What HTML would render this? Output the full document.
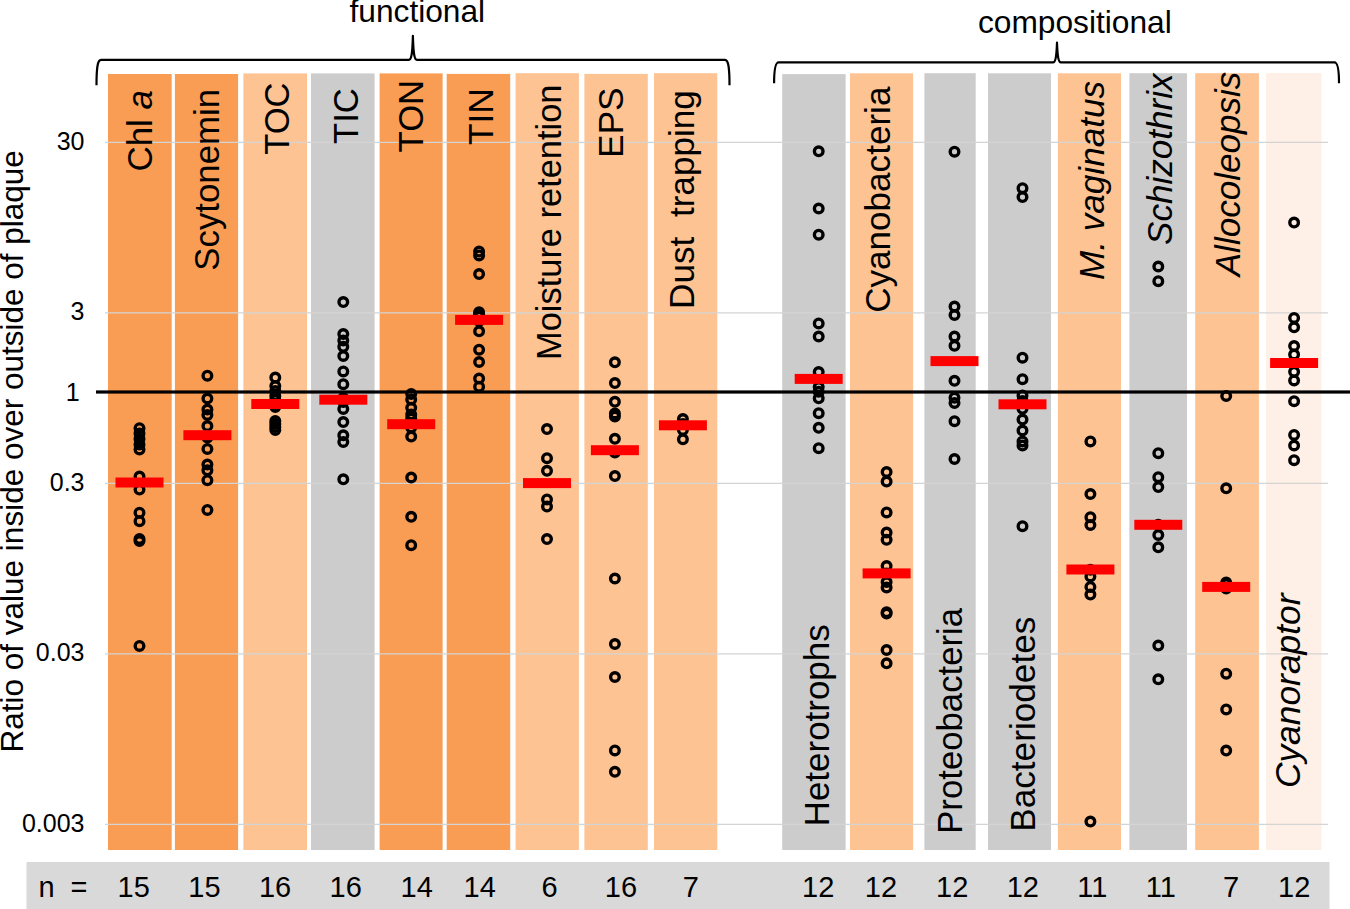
<!DOCTYPE html><html><head><meta charset="utf-8"><style>html,body{margin:0;padding:0;background:#fff;overflow:hidden}svg{display:block}text{font-family:"Liberation Sans",sans-serif}</style></head><body>
<svg width="1350" height="909" viewBox="0 0 1350 909">
<rect width="1350" height="909" fill="#fff"/>
<rect x="108" y="74" width="63.7" height="776.0" fill="#f99d55"/>
<rect x="174.9" y="74" width="63.2" height="776.0" fill="#f99d55"/>
<rect x="243.4" y="73.4" width="63.6" height="776.6" fill="#fdc393"/>
<rect x="311" y="73.4" width="63.6" height="776.6" fill="#cccccc"/>
<rect x="379.6" y="73.4" width="63.0" height="776.6" fill="#f99d55"/>
<rect x="446.7" y="73.9" width="63.5" height="776.1" fill="#f99d55"/>
<rect x="515.6" y="73.2" width="63.3" height="776.8" fill="#fdc393"/>
<rect x="584.4" y="73.9" width="63.4" height="776.1" fill="#fdc393"/>
<rect x="654" y="73.2" width="63.3" height="776.8" fill="#fdc393"/>
<rect x="782.2" y="74.1" width="63.4" height="775.9" fill="#cccccc"/>
<rect x="850" y="73.3" width="63.1" height="776.7" fill="#fdc393"/>
<rect x="924.4" y="73.2" width="51.3" height="776.8" fill="#cccccc"/>
<rect x="988" y="73.3" width="63.0" height="776.7" fill="#cccccc"/>
<rect x="1057.9" y="73.3" width="63.1" height="776.7" fill="#fdc393"/>
<rect x="1129.4" y="73.2" width="57.6" height="776.8" fill="#cccccc"/>
<rect x="1195.2" y="73.2" width="63.7" height="776.8" fill="#fdc393"/>
<rect x="1266.1" y="73" width="55.4" height="777.0" fill="#fef0e6"/>
<line x1="105" x2="1328" y1="142.4" y2="142.4" stroke="#d4d4d4" stroke-width="1.2"/>
<line x1="105" x2="1328" y1="312.9" y2="312.9" stroke="#d4d4d4" stroke-width="1.2"/>
<line x1="105" x2="1328" y1="483.4" y2="483.4" stroke="#d4d4d4" stroke-width="1.2"/>
<line x1="105" x2="1328" y1="653.9" y2="653.9" stroke="#d4d4d4" stroke-width="1.2"/>
<line x1="105" x2="1328" y1="824.4" y2="824.4" stroke="#d4d4d4" stroke-width="1.2"/>
<text transform="translate(152.4,171.6) rotate(-90)" font-size="34.99">Chl <tspan font-style="italic">a</tspan></text>
<text transform="translate(218.9,270.7) rotate(-90)" font-size="34.80" xml:space="preserve">Scytonemin</text>
<text transform="translate(288.7,154.8) rotate(-90)" font-size="34.53" xml:space="preserve">TOC</text>
<text transform="translate(357.7,143.9) rotate(-90)" font-size="34.57" xml:space="preserve">TIC</text>
<text transform="translate(423,152.4) rotate(-90)" font-size="34.68" xml:space="preserve">TON</text>
<text transform="translate(492.8,145.1) rotate(-90)" font-size="35.40" xml:space="preserve">TIN</text>
<text transform="translate(560.5,360.0) rotate(-90)" font-size="34.44" xml:space="preserve">Moisture retention</text>
<text transform="translate(623.2,158.1) rotate(-90)" font-size="35.34" xml:space="preserve">EPS</text>
<text transform="translate(694.2,308.9) rotate(-90)" font-size="35.15" xml:space="preserve">Dust&#160; trapping</text>
<text transform="translate(829.3,826.3) rotate(-90)" font-size="34.95" xml:space="preserve">Heterotrophs</text>
<text transform="translate(890,312.8) rotate(-90)" font-size="35.08" xml:space="preserve">Cyanobacteria</text>
<text transform="translate(961.8,833.8) rotate(-90)" font-size="34.74" xml:space="preserve">Proteobacteria</text>
<text transform="translate(1035,831.8) rotate(-90)" font-size="35.20" xml:space="preserve">Bacteriodetes</text>
<text transform="translate(1103.9,280.0) rotate(-90)" font-size="35.12" font-style="italic" xml:space="preserve">M. vaginatus</text>
<text transform="translate(1171.7,245.0) rotate(-90)" font-size="35.10" font-style="italic" xml:space="preserve">Schizothrix</text>
<text transform="translate(1239.5,276.3) rotate(-90)" font-size="35.07" font-style="italic" xml:space="preserve">Allocoleopsis</text>
<text transform="translate(1299.5,788.1) rotate(-90)" font-size="35.37" font-style="italic" xml:space="preserve">Cyanoraptor</text>
<rect x="96" y="390.4" width="1254" height="3.2" fill="#000"/>
<circle cx="139.5" cy="428.2" r="4.3" fill="none" stroke="#000" stroke-width="3.4"/>
<circle cx="139.5" cy="433.5" r="4.3" fill="none" stroke="#000" stroke-width="3.4"/>
<circle cx="139.5" cy="439.0" r="4.3" fill="none" stroke="#000" stroke-width="3.4"/>
<circle cx="139.5" cy="444.5" r="4.3" fill="none" stroke="#000" stroke-width="3.4"/>
<circle cx="139.5" cy="449.5" r="4.3" fill="none" stroke="#000" stroke-width="3.4"/>
<circle cx="139.5" cy="476.5" r="4.3" fill="none" stroke="#000" stroke-width="3.4"/>
<circle cx="139.5" cy="489.6" r="4.3" fill="none" stroke="#000" stroke-width="3.4"/>
<circle cx="139.5" cy="512.7" r="4.3" fill="none" stroke="#000" stroke-width="3.4"/>
<circle cx="139.5" cy="521.2" r="4.3" fill="none" stroke="#000" stroke-width="3.4"/>
<circle cx="139.5" cy="539.0" r="4.3" fill="none" stroke="#000" stroke-width="3.4"/>
<circle cx="139.5" cy="541.0" r="4.3" fill="none" stroke="#000" stroke-width="3.4"/>
<circle cx="139.5" cy="645.9" r="4.3" fill="none" stroke="#000" stroke-width="3.4"/>
<circle cx="207.4" cy="375.7" r="4.3" fill="none" stroke="#000" stroke-width="3.4"/>
<circle cx="207.4" cy="398.5" r="4.3" fill="none" stroke="#000" stroke-width="3.4"/>
<circle cx="207.4" cy="409.5" r="4.3" fill="none" stroke="#000" stroke-width="3.4"/>
<circle cx="207.4" cy="415.0" r="4.3" fill="none" stroke="#000" stroke-width="3.4"/>
<circle cx="207.4" cy="426.0" r="4.3" fill="none" stroke="#000" stroke-width="3.4"/>
<circle cx="207.4" cy="437.5" r="4.3" fill="none" stroke="#000" stroke-width="3.4"/>
<circle cx="207.4" cy="448.9" r="4.3" fill="none" stroke="#000" stroke-width="3.4"/>
<circle cx="207.4" cy="464.5" r="4.3" fill="none" stroke="#000" stroke-width="3.4"/>
<circle cx="207.4" cy="470.3" r="4.3" fill="none" stroke="#000" stroke-width="3.4"/>
<circle cx="207.4" cy="480.2" r="4.3" fill="none" stroke="#000" stroke-width="3.4"/>
<circle cx="207.4" cy="509.9" r="4.3" fill="none" stroke="#000" stroke-width="3.4"/>
<circle cx="275.3" cy="377.6" r="4.3" fill="none" stroke="#000" stroke-width="3.4"/>
<circle cx="275.3" cy="386.0" r="4.3" fill="none" stroke="#000" stroke-width="3.4"/>
<circle cx="275.3" cy="391.0" r="4.3" fill="none" stroke="#000" stroke-width="3.4"/>
<circle cx="275.3" cy="396.0" r="4.3" fill="none" stroke="#000" stroke-width="3.4"/>
<circle cx="275.3" cy="400.0" r="4.3" fill="none" stroke="#000" stroke-width="3.4"/>
<circle cx="275.3" cy="404.0" r="4.3" fill="none" stroke="#000" stroke-width="3.4"/>
<circle cx="275.3" cy="407.0" r="4.3" fill="none" stroke="#000" stroke-width="3.4"/>
<circle cx="275.3" cy="421.0" r="4.3" fill="none" stroke="#000" stroke-width="3.4"/>
<circle cx="275.3" cy="424.0" r="4.3" fill="none" stroke="#000" stroke-width="3.4"/>
<circle cx="275.3" cy="427.0" r="4.3" fill="none" stroke="#000" stroke-width="3.4"/>
<circle cx="275.3" cy="430.0" r="4.3" fill="none" stroke="#000" stroke-width="3.4"/>
<circle cx="343.3" cy="302.1" r="4.3" fill="none" stroke="#000" stroke-width="3.4"/>
<circle cx="343.3" cy="334.0" r="4.3" fill="none" stroke="#000" stroke-width="3.4"/>
<circle cx="343.3" cy="340.6" r="4.3" fill="none" stroke="#000" stroke-width="3.4"/>
<circle cx="343.3" cy="346.8" r="4.3" fill="none" stroke="#000" stroke-width="3.4"/>
<circle cx="343.3" cy="356.0" r="4.3" fill="none" stroke="#000" stroke-width="3.4"/>
<circle cx="343.3" cy="371.4" r="4.3" fill="none" stroke="#000" stroke-width="3.4"/>
<circle cx="343.3" cy="384.2" r="4.3" fill="none" stroke="#000" stroke-width="3.4"/>
<circle cx="343.3" cy="397.9" r="4.3" fill="none" stroke="#000" stroke-width="3.4"/>
<circle cx="343.3" cy="402.0" r="4.3" fill="none" stroke="#000" stroke-width="3.4"/>
<circle cx="343.3" cy="408.9" r="4.3" fill="none" stroke="#000" stroke-width="3.4"/>
<circle cx="343.3" cy="422.1" r="4.3" fill="none" stroke="#000" stroke-width="3.4"/>
<circle cx="343.3" cy="435.3" r="4.3" fill="none" stroke="#000" stroke-width="3.4"/>
<circle cx="343.3" cy="441.9" r="4.3" fill="none" stroke="#000" stroke-width="3.4"/>
<circle cx="343.3" cy="479.3" r="4.3" fill="none" stroke="#000" stroke-width="3.4"/>
<circle cx="411.2" cy="393.9" r="4.3" fill="none" stroke="#000" stroke-width="3.4"/>
<circle cx="411.2" cy="399.4" r="4.3" fill="none" stroke="#000" stroke-width="3.4"/>
<circle cx="411.2" cy="407.8" r="4.3" fill="none" stroke="#000" stroke-width="3.4"/>
<circle cx="411.2" cy="414.5" r="4.3" fill="none" stroke="#000" stroke-width="3.4"/>
<circle cx="411.2" cy="418.5" r="4.3" fill="none" stroke="#000" stroke-width="3.4"/>
<circle cx="411.2" cy="427.4" r="4.3" fill="none" stroke="#000" stroke-width="3.4"/>
<circle cx="411.2" cy="436.6" r="4.3" fill="none" stroke="#000" stroke-width="3.4"/>
<circle cx="411.2" cy="477.5" r="4.3" fill="none" stroke="#000" stroke-width="3.4"/>
<circle cx="411.2" cy="516.8" r="4.3" fill="none" stroke="#000" stroke-width="3.4"/>
<circle cx="411.2" cy="545.2" r="4.3" fill="none" stroke="#000" stroke-width="3.4"/>
<circle cx="479.1" cy="251.6" r="4.3" fill="none" stroke="#000" stroke-width="3.4"/>
<circle cx="479.1" cy="255.4" r="4.3" fill="none" stroke="#000" stroke-width="3.4"/>
<circle cx="479.1" cy="274.1" r="4.3" fill="none" stroke="#000" stroke-width="3.4"/>
<circle cx="479.1" cy="312.3" r="4.3" fill="none" stroke="#000" stroke-width="3.4"/>
<circle cx="479.1" cy="314.3" r="4.3" fill="none" stroke="#000" stroke-width="3.4"/>
<circle cx="479.1" cy="316.5" r="4.3" fill="none" stroke="#000" stroke-width="3.4"/>
<circle cx="479.1" cy="321.0" r="4.3" fill="none" stroke="#000" stroke-width="3.4"/>
<circle cx="479.1" cy="331.3" r="4.3" fill="none" stroke="#000" stroke-width="3.4"/>
<circle cx="479.1" cy="349.7" r="4.3" fill="none" stroke="#000" stroke-width="3.4"/>
<circle cx="479.1" cy="362.0" r="4.3" fill="none" stroke="#000" stroke-width="3.4"/>
<circle cx="479.1" cy="378.6" r="4.3" fill="none" stroke="#000" stroke-width="3.4"/>
<circle cx="479.1" cy="386.7" r="4.3" fill="none" stroke="#000" stroke-width="3.4"/>
<circle cx="547.0" cy="429.1" r="4.3" fill="none" stroke="#000" stroke-width="3.4"/>
<circle cx="547.0" cy="458.2" r="4.3" fill="none" stroke="#000" stroke-width="3.4"/>
<circle cx="547.0" cy="470.8" r="4.3" fill="none" stroke="#000" stroke-width="3.4"/>
<circle cx="547.0" cy="499.4" r="4.3" fill="none" stroke="#000" stroke-width="3.4"/>
<circle cx="547.0" cy="506.6" r="4.3" fill="none" stroke="#000" stroke-width="3.4"/>
<circle cx="547.0" cy="539.1" r="4.3" fill="none" stroke="#000" stroke-width="3.4"/>
<circle cx="614.9" cy="362.3" r="4.3" fill="none" stroke="#000" stroke-width="3.4"/>
<circle cx="614.9" cy="383.1" r="4.3" fill="none" stroke="#000" stroke-width="3.4"/>
<circle cx="614.9" cy="401.8" r="4.3" fill="none" stroke="#000" stroke-width="3.4"/>
<circle cx="614.9" cy="413.5" r="4.3" fill="none" stroke="#000" stroke-width="3.4"/>
<circle cx="614.9" cy="416.5" r="4.3" fill="none" stroke="#000" stroke-width="3.4"/>
<circle cx="614.9" cy="438.8" r="4.3" fill="none" stroke="#000" stroke-width="3.4"/>
<circle cx="614.9" cy="452.6" r="4.3" fill="none" stroke="#000" stroke-width="3.4"/>
<circle cx="614.9" cy="476.1" r="4.3" fill="none" stroke="#000" stroke-width="3.4"/>
<circle cx="614.9" cy="578.5" r="4.3" fill="none" stroke="#000" stroke-width="3.4"/>
<circle cx="614.9" cy="644.0" r="4.3" fill="none" stroke="#000" stroke-width="3.4"/>
<circle cx="614.9" cy="677.0" r="4.3" fill="none" stroke="#000" stroke-width="3.4"/>
<circle cx="614.9" cy="750.4" r="4.3" fill="none" stroke="#000" stroke-width="3.4"/>
<circle cx="614.9" cy="771.8" r="4.3" fill="none" stroke="#000" stroke-width="3.4"/>
<circle cx="682.9" cy="419.0" r="4.3" fill="none" stroke="#000" stroke-width="3.4"/>
<circle cx="682.9" cy="424.0" r="4.3" fill="none" stroke="#000" stroke-width="3.4"/>
<circle cx="682.9" cy="430.0" r="4.3" fill="none" stroke="#000" stroke-width="3.4"/>
<circle cx="682.9" cy="439.3" r="4.3" fill="none" stroke="#000" stroke-width="3.4"/>
<circle cx="818.7" cy="151.3" r="4.3" fill="none" stroke="#000" stroke-width="3.4"/>
<circle cx="818.7" cy="208.5" r="4.3" fill="none" stroke="#000" stroke-width="3.4"/>
<circle cx="818.7" cy="234.7" r="4.3" fill="none" stroke="#000" stroke-width="3.4"/>
<circle cx="818.7" cy="323.4" r="4.3" fill="none" stroke="#000" stroke-width="3.4"/>
<circle cx="818.7" cy="336.5" r="4.3" fill="none" stroke="#000" stroke-width="3.4"/>
<circle cx="818.7" cy="372.0" r="4.3" fill="none" stroke="#000" stroke-width="3.4"/>
<circle cx="818.7" cy="387.0" r="4.3" fill="none" stroke="#000" stroke-width="3.4"/>
<circle cx="818.7" cy="391.7" r="4.3" fill="none" stroke="#000" stroke-width="3.4"/>
<circle cx="818.7" cy="398.3" r="4.3" fill="none" stroke="#000" stroke-width="3.4"/>
<circle cx="818.7" cy="413.2" r="4.3" fill="none" stroke="#000" stroke-width="3.4"/>
<circle cx="818.7" cy="427.8" r="4.3" fill="none" stroke="#000" stroke-width="3.4"/>
<circle cx="818.7" cy="448.2" r="4.3" fill="none" stroke="#000" stroke-width="3.4"/>
<circle cx="886.6" cy="472.0" r="4.3" fill="none" stroke="#000" stroke-width="3.4"/>
<circle cx="886.6" cy="481.6" r="4.3" fill="none" stroke="#000" stroke-width="3.4"/>
<circle cx="886.6" cy="512.4" r="4.3" fill="none" stroke="#000" stroke-width="3.4"/>
<circle cx="886.6" cy="532.5" r="4.3" fill="none" stroke="#000" stroke-width="3.4"/>
<circle cx="886.6" cy="539.8" r="4.3" fill="none" stroke="#000" stroke-width="3.4"/>
<circle cx="886.6" cy="566.0" r="4.3" fill="none" stroke="#000" stroke-width="3.4"/>
<circle cx="886.6" cy="573.5" r="4.3" fill="none" stroke="#000" stroke-width="3.4"/>
<circle cx="886.6" cy="582.0" r="4.3" fill="none" stroke="#000" stroke-width="3.4"/>
<circle cx="886.6" cy="587.5" r="4.3" fill="none" stroke="#000" stroke-width="3.4"/>
<circle cx="886.6" cy="612.2" r="4.3" fill="none" stroke="#000" stroke-width="3.4"/>
<circle cx="886.6" cy="613.6" r="4.3" fill="none" stroke="#000" stroke-width="3.4"/>
<circle cx="886.6" cy="650.0" r="4.3" fill="none" stroke="#000" stroke-width="3.4"/>
<circle cx="886.6" cy="663.3" r="4.3" fill="none" stroke="#000" stroke-width="3.4"/>
<circle cx="954.5" cy="151.7" r="4.3" fill="none" stroke="#000" stroke-width="3.4"/>
<circle cx="954.5" cy="306.5" r="4.3" fill="none" stroke="#000" stroke-width="3.4"/>
<circle cx="954.5" cy="315.0" r="4.3" fill="none" stroke="#000" stroke-width="3.4"/>
<circle cx="954.5" cy="336.5" r="4.3" fill="none" stroke="#000" stroke-width="3.4"/>
<circle cx="954.5" cy="345.8" r="4.3" fill="none" stroke="#000" stroke-width="3.4"/>
<circle cx="954.5" cy="380.8" r="4.3" fill="none" stroke="#000" stroke-width="3.4"/>
<circle cx="954.5" cy="397.7" r="4.3" fill="none" stroke="#000" stroke-width="3.4"/>
<circle cx="954.5" cy="402.9" r="4.3" fill="none" stroke="#000" stroke-width="3.4"/>
<circle cx="954.5" cy="421.2" r="4.3" fill="none" stroke="#000" stroke-width="3.4"/>
<circle cx="954.5" cy="459.0" r="4.3" fill="none" stroke="#000" stroke-width="3.4"/>
<circle cx="1022.5" cy="188.2" r="4.3" fill="none" stroke="#000" stroke-width="3.4"/>
<circle cx="1022.5" cy="197.1" r="4.3" fill="none" stroke="#000" stroke-width="3.4"/>
<circle cx="1022.5" cy="357.7" r="4.3" fill="none" stroke="#000" stroke-width="3.4"/>
<circle cx="1022.5" cy="379.2" r="4.3" fill="none" stroke="#000" stroke-width="3.4"/>
<circle cx="1022.5" cy="395.4" r="4.3" fill="none" stroke="#000" stroke-width="3.4"/>
<circle cx="1022.5" cy="401.0" r="4.3" fill="none" stroke="#000" stroke-width="3.4"/>
<circle cx="1022.5" cy="408.8" r="4.3" fill="none" stroke="#000" stroke-width="3.4"/>
<circle cx="1022.5" cy="419.6" r="4.3" fill="none" stroke="#000" stroke-width="3.4"/>
<circle cx="1022.5" cy="430.5" r="4.3" fill="none" stroke="#000" stroke-width="3.4"/>
<circle cx="1022.5" cy="441.4" r="4.3" fill="none" stroke="#000" stroke-width="3.4"/>
<circle cx="1022.5" cy="445.6" r="4.3" fill="none" stroke="#000" stroke-width="3.4"/>
<circle cx="1022.5" cy="526.2" r="4.3" fill="none" stroke="#000" stroke-width="3.4"/>
<circle cx="1090.4" cy="441.4" r="4.3" fill="none" stroke="#000" stroke-width="3.4"/>
<circle cx="1090.4" cy="494.0" r="4.3" fill="none" stroke="#000" stroke-width="3.4"/>
<circle cx="1090.4" cy="517.2" r="4.3" fill="none" stroke="#000" stroke-width="3.4"/>
<circle cx="1090.4" cy="525.0" r="4.3" fill="none" stroke="#000" stroke-width="3.4"/>
<circle cx="1090.4" cy="569.8" r="4.3" fill="none" stroke="#000" stroke-width="3.4"/>
<circle cx="1090.4" cy="576.4" r="4.3" fill="none" stroke="#000" stroke-width="3.4"/>
<circle cx="1090.4" cy="586.9" r="4.3" fill="none" stroke="#000" stroke-width="3.4"/>
<circle cx="1090.4" cy="594.6" r="4.3" fill="none" stroke="#000" stroke-width="3.4"/>
<circle cx="1090.4" cy="821.6" r="4.3" fill="none" stroke="#000" stroke-width="3.4"/>
<circle cx="1158.3" cy="266.5" r="4.3" fill="none" stroke="#000" stroke-width="3.4"/>
<circle cx="1158.3" cy="281.2" r="4.3" fill="none" stroke="#000" stroke-width="3.4"/>
<circle cx="1158.3" cy="453.2" r="4.3" fill="none" stroke="#000" stroke-width="3.4"/>
<circle cx="1158.3" cy="477.2" r="4.3" fill="none" stroke="#000" stroke-width="3.4"/>
<circle cx="1158.3" cy="487.1" r="4.3" fill="none" stroke="#000" stroke-width="3.4"/>
<circle cx="1158.3" cy="524.8" r="4.3" fill="none" stroke="#000" stroke-width="3.4"/>
<circle cx="1158.3" cy="535.0" r="4.3" fill="none" stroke="#000" stroke-width="3.4"/>
<circle cx="1158.3" cy="547.3" r="4.3" fill="none" stroke="#000" stroke-width="3.4"/>
<circle cx="1158.3" cy="645.6" r="4.3" fill="none" stroke="#000" stroke-width="3.4"/>
<circle cx="1158.3" cy="679.3" r="4.3" fill="none" stroke="#000" stroke-width="3.4"/>
<circle cx="1226.2" cy="396.0" r="4.3" fill="none" stroke="#000" stroke-width="3.4"/>
<circle cx="1226.2" cy="488.3" r="4.3" fill="none" stroke="#000" stroke-width="3.4"/>
<circle cx="1226.2" cy="582.6" r="4.3" fill="none" stroke="#000" stroke-width="3.4"/>
<circle cx="1226.2" cy="584.2" r="4.3" fill="none" stroke="#000" stroke-width="3.4"/>
<circle cx="1226.2" cy="588.5" r="4.3" fill="none" stroke="#000" stroke-width="3.4"/>
<circle cx="1226.2" cy="673.7" r="4.3" fill="none" stroke="#000" stroke-width="3.4"/>
<circle cx="1226.2" cy="709.4" r="4.3" fill="none" stroke="#000" stroke-width="3.4"/>
<circle cx="1226.2" cy="750.6" r="4.3" fill="none" stroke="#000" stroke-width="3.4"/>
<circle cx="1294.1" cy="222.6" r="4.3" fill="none" stroke="#000" stroke-width="3.4"/>
<circle cx="1294.1" cy="317.9" r="4.3" fill="none" stroke="#000" stroke-width="3.4"/>
<circle cx="1294.1" cy="327.3" r="4.3" fill="none" stroke="#000" stroke-width="3.4"/>
<circle cx="1294.1" cy="346.1" r="4.3" fill="none" stroke="#000" stroke-width="3.4"/>
<circle cx="1294.1" cy="354.5" r="4.3" fill="none" stroke="#000" stroke-width="3.4"/>
<circle cx="1294.1" cy="371.8" r="4.3" fill="none" stroke="#000" stroke-width="3.4"/>
<circle cx="1294.1" cy="380.4" r="4.3" fill="none" stroke="#000" stroke-width="3.4"/>
<circle cx="1294.1" cy="401.2" r="4.3" fill="none" stroke="#000" stroke-width="3.4"/>
<circle cx="1294.1" cy="434.9" r="4.3" fill="none" stroke="#000" stroke-width="3.4"/>
<circle cx="1294.1" cy="445.5" r="4.3" fill="none" stroke="#000" stroke-width="3.4"/>
<circle cx="1294.1" cy="460.2" r="4.3" fill="none" stroke="#000" stroke-width="3.4"/>
<rect x="115.5" y="477.5" width="48" height="10" fill="#ff0000"/>
<rect x="183.4" y="430.2" width="48" height="10" fill="#ff0000"/>
<rect x="251.3" y="399.0" width="48" height="10" fill="#ff0000"/>
<rect x="319.3" y="394.7" width="48" height="10" fill="#ff0000"/>
<rect x="387.2" y="419.2" width="48" height="10" fill="#ff0000"/>
<rect x="455.1" y="314.9" width="48" height="10" fill="#ff0000"/>
<rect x="523.0" y="478.1" width="48" height="10" fill="#ff0000"/>
<rect x="590.9" y="445.2" width="48" height="10" fill="#ff0000"/>
<rect x="658.9" y="420.3" width="48" height="10" fill="#ff0000"/>
<rect x="794.7" y="373.9" width="48" height="10" fill="#ff0000"/>
<rect x="862.6" y="568.4" width="48" height="10" fill="#ff0000"/>
<rect x="930.5" y="356.1" width="48" height="10" fill="#ff0000"/>
<rect x="998.5" y="399.3" width="48" height="10" fill="#ff0000"/>
<rect x="1066.4" y="564.5" width="48" height="10" fill="#ff0000"/>
<rect x="1134.3" y="519.8" width="48" height="10" fill="#ff0000"/>
<rect x="1202.2" y="581.9" width="48" height="10" fill="#ff0000"/>
<rect x="1270.1" y="358.0" width="48" height="10" fill="#ff0000"/>
<text x="84.5" y="149.6" font-size="25" text-anchor="end">30</text>
<text x="84.5" y="320.1" font-size="25" text-anchor="end">3</text>
<text x="79.6" y="400.8" font-size="25" text-anchor="end">1</text>
<text x="84.5" y="490.6" font-size="25" text-anchor="end">0.3</text>
<text x="84.5" y="661.1" font-size="25" text-anchor="end">0.03</text>
<text x="84.5" y="831.6" font-size="25" text-anchor="end">0.003</text>
<text transform="translate(22.8,752.5) rotate(-90)" font-size="31.5">Ratio of value inside over outside of plaque</text>
<text x="349.5" y="22.3" font-size="31.7">functional</text>
<text x="978.0" y="32.7" font-size="31.7">compositional</text>
<path d="M96.5,85.2 C96.5,67.9 97.5,59.9 101.0,59.9 L408.9,59.9 C411.4,59.9 412.4,53.9 412.9,35.9 C413.4,53.9 414.4,59.9 416.9,59.9 L725.0,59.9 C728.5,59.9 729.5,67.9 729.5,85.2" fill="none" stroke="#000" stroke-width="2.2" stroke-linejoin="round"/>
<path d="M774.1,83.3 C774.1,70.4 775.1,62.4 778.6,62.4 L1053,62.4 C1055.5,62.4 1056.5,56.4 1057,42.7 C1057.5,56.4 1058.5,62.4 1061,62.4 L1334.5,62.4 C1338,62.4 1339,70.4 1339,83.3" fill="none" stroke="#000" stroke-width="2.2" stroke-linejoin="round"/>
<rect x="26.5" y="862" width="1303.0" height="47" fill="#d9d9d9"/>
<text x="38.6" y="896.6" font-size="29">n</text>
<text x="70.6" y="896.6" font-size="29">=</text>
<text x="117.6" y="896.6" font-size="29">15</text>
<text x="188.3" y="896.6" font-size="29">15</text>
<text x="258.9" y="896.6" font-size="29">16</text>
<text x="329.6" y="896.6" font-size="29">16</text>
<text x="400.5" y="896.6" font-size="29">14</text>
<text x="463.5" y="896.6" font-size="29">14</text>
<text x="541.5" y="896.6" font-size="29">6</text>
<text x="604.8" y="896.6" font-size="29">16</text>
<text x="682.8" y="896.6" font-size="29">7</text>
<text x="802.1" y="896.6" font-size="29">12</text>
<text x="864.8" y="896.6" font-size="29">12</text>
<text x="936.0" y="896.6" font-size="29">12</text>
<text x="1006.7" y="896.6" font-size="29">12</text>
<text x="1077.3" y="896.6" font-size="29">11</text>
<text x="1145.8" y="896.6" font-size="29">11</text>
<text x="1223.0" y="896.6" font-size="29">7</text>
<text x="1278.1" y="896.6" font-size="29">12</text>
</svg></body></html>
